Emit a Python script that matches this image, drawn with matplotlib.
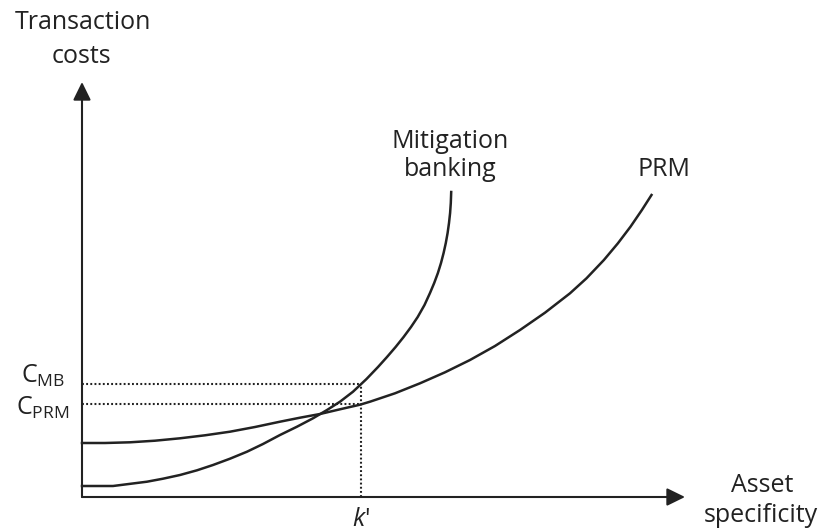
import numpy as np
import matplotlib
matplotlib.use("Agg")
import matplotlib.pyplot as plt

# conceptual diagram: transaction costs vs asset specificity
# curve points (arbitrary units, origin at the axes corner)
prm_x = [0, 23, 48, 73, 98, 123, 148, 173, 198, 218, 238, 258, 278, 288,
         313, 338, 363, 388, 413, 438, 463, 488, 504.5, 521.9, 535.9, 548.5, 559.9, 569.5]
prm_y = [54, 54, 54.7, 56.3, 58.7, 61.7, 65.3, 70, 75.3, 79.3, 83, 87.7, 92.3, 95.3,
         103.7, 113.7, 124.7, 137, 151, 167, 184.3, 203.7, 218.7, 237, 253.7, 270.3, 287, 302]

mb_x = [0, 31, 65, 81, 98, 115, 131, 148, 165, 181, 198, 215, 231, 245,
        258, 271, 284.5, 296, 305, 313.6, 321.6, 329, 335.7, 342.5, 348,
        352.2, 355.9, 359, 361.6, 363.8, 365.6, 367, 368.1, 368.8, 369.2]
mb_y = [11, 11, 15.3, 18.3, 22, 26.7, 32, 38.3, 45.3, 53, 62, 70.3, 78.7, 87,
        95.3, 105.3, 118, 130, 140, 150, 160, 170, 180, 192, 204,
        214, 224, 234, 244, 254, 264, 274, 284, 294, 305]

k_prime = 279
c_mb = 113
c_prm = 93

x_end = 603
y_end = 415

plt.rcParams["font.family"] = ["Open Sans", "DejaVu Sans"]
plt.rcParams["mathtext.fontset"] = "custom"
plt.rcParams["mathtext.rm"] = "Open Sans"
plt.rcParams["mathtext.it"] = "Open Sans:italic"

ink = "#222222"
fs = 18

fig = plt.figure(figsize=(8.25, 5.32), dpi=100)
ax = fig.add_axes([0, 0, 1, 1])
ax.set_xlim(-82, 743)
ax.set_ylim(-35, 497)
ax.axis("off")

# axes with arrow heads
arrow = dict(arrowstyle="-|>,head_length=0.55,head_width=0.27", color=ink,
             lw=1.5, shrinkA=0, shrinkB=0, mutation_scale=20)
ax.annotate("", xy=(x_end, 0), xytext=(0, 0), arrowprops=arrow)
ax.annotate("", xy=(0, y_end), xytext=(0, 0), arrowprops=arrow)

# curves
ax.plot(prm_x, prm_y, color=ink, lw=1.8, solid_joinstyle="round")
ax.plot(mb_x, mb_y, color=ink, lw=1.8, solid_joinstyle="round")

# dotted guides at k'
dot = dict(color=ink, lw=1.5, linestyle=(0, (0.9, 1.1)))
ax.plot([0, k_prime], [c_mb, c_mb], **dot)
ax.plot([0, k_prime], [c_prm, c_prm], **dot)
ax.plot([k_prime, k_prime], [0, c_mb], **dot)

# labels
ax.text(1, 468, "Transaction", fontsize=fs, ha="center", va="baseline", color=ink)
ax.text(-1, 434, "costs", fontsize=fs, ha="center", va="baseline", color=ink)
ax.text(680, 5, "Asset", fontsize=fs, ha="center", va="baseline", color=ink)
ax.text(679, -25, "specificity", fontsize=fs, ha="center", va="baseline", color=ink)
ax.text(368, 349, "Mitigation", fontsize=fs, ha="center", va="baseline", color=ink)
ax.text(368, 321, "banking", fontsize=fs, ha="center", va="baseline", color=ink)
ax.text(582, 321, "PRM", fontsize=fs, ha="center", va="baseline", color=ink)
ax.text(-39, 114, r"C$_{\mathrm{MB}}$", fontsize=fs, ha="center", va="baseline", color=ink)
ax.text(-39, 82, r"C$_{\mathrm{PRM}}$", fontsize=fs, ha="center", va="baseline", color=ink)
ax.text(k_prime, -29, r"$k$'", fontsize=fs, ha="center", va="baseline", color=ink)

fig.savefig("out.png", dpi=100, facecolor="white")
